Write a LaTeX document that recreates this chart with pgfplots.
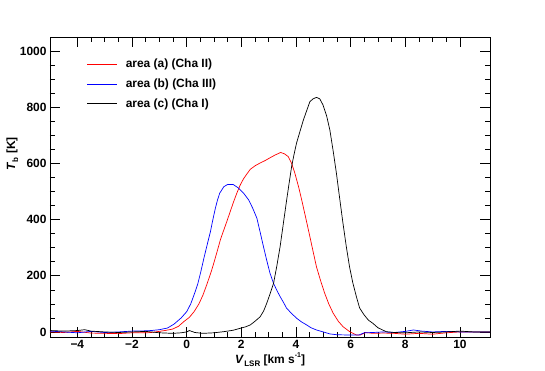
\documentclass[border=0pt]{standalone}
\usepackage{fontspec}
\setmainfont{Liberation Sans}
\usepackage{pgfplots}
\pgfplotsset{compat=1.18}

\begin{document}
\begin{tikzpicture}
\begin{axis}[
    at={(0,0)}, anchor=south west,
    width=440bp, height=300bp, scale only axis,
    xmin=-5, xmax=11.1,
    ymin=-18, ymax=1050,
    xtick={-4,-2,...,10},
    xticklabels={−4,−2,0,2,4,6,8,10},
    ytick={0,200,...,1000},
    minor x tick num=3,
    minor y tick num=3,
    tick align=inside,
    major tick length=10bp,
    minor tick length=5bp,
    tick style={black, line width=0.6bp},
    axis line style={line width=0.8bp},
    /pgf/number format/assume math mode=true,
    /pgf/number format/1000 sep={},
    tick label style={font=\fontsize{12}{14}\selectfont\bfseries},
    label style={font=\fontsize{12}{14}\selectfont\bfseries},
    xlabel={{\itshape V}\raisebox{-0.5ex}{\fontsize{8}{9}\selectfont\,LSR} [km s\raisebox{0.9ex}{\fontsize{7}{8}\selectfont -1}]},
    xlabel style={yshift=3bp},
    ylabel={{\itshape T}\raisebox{-0.5ex}{\fontsize{8}{9}\selectfont\,b} [K]},
    ylabel style={at={(rel axis cs:-0.064,0.61)}, anchor=south},
    legend style={draw=none, fill=none, at={(0.077,0.94)}, anchor=north west,
        font=\fontsize{12}{14}\selectfont\bfseries, row sep=5.5bp},
    legend cell align=left,
    legend image code/.code={
        \draw[mark repeat=2,mark phase=2,#1] plot coordinates {(0bp,0bp) (15bp,0bp) (30bp,0bp)};
        \path (36bp,0bp);
    },
]
% area (a) Cha II
\addplot[red, line width=0.7bp] coordinates {
(-5.0,0) (-4.5,-2) (-4.0,2) (-3.5,-4) (-3.0,-5) (-2.5,-6) (-2.0,-3) (-1.5,-3)
(-1.3,-2) (-1.0,2) (-0.8,5) (-0.52,10) (-0.3,20) (-0.1,37) (0.1,52) (0.27,72)
(0.45,100) (0.6,132) (0.75,172) (0.9,215) (1.0,247) (1.12,288) (1.24,330)
(1.36,363) (1.48,396) (1.6,430) (1.72,464) (1.84,495) (1.96,523) (2.08,545) (2.2,562) (2.33,579)
(2.51,592) (2.7,602) (2.87,610) (3.05,620) (3.24,630) (3.44,639) (3.58,634)
(3.72,624) (3.85,598) (3.96,565) (4.1,515) (4.21,470) (4.36,405) (4.51,339)
(4.63,285) (4.75,232) (4.9,183) (5.05,138) (5.2,100) (5.36,67) (5.55,38)
(5.72,19) (5.95,2) (6.21,-11) (6.35,-11) (6.55,-2) (6.8,-5) (7.2,-4) (7.6,-5)
(8.0,-8) (8.5,-5) (9.0,-8) (9.5,-3) (10.0,0) (10.5,0) (11.1,0)
};
\addlegendentry{area (a) (Cha II)}
% area (b) Cha III
\addplot[blue, line width=0.7bp] coordinates {
(-5.0,3) (-4.5,0) (-4.0,-3) (-3.5,2) (-3.0,-2) (-2.5,0) (-2.0,3) (-1.5,4)
(-1.3,5) (-1.0,8) (-0.7,14) (-0.46,28) (-0.2,50) (0.0,72) (0.15,100) (0.3,140)
(0.41,172) (0.52,215) (0.63,262) (0.75,310) (0.87,357) (0.96,400) (1.05,440)
(1.13,470) (1.21,494) (1.36,517) (1.5,525) (1.7,525) (1.9,512) (2.1,492)
(2.27,470) (2.42,440) (2.57,405) (2.69,355) (2.81,304) (2.93,255)
(3.05,209) (3.18,173) (3.3,148) (3.42,126) (3.55,104) (3.66,84) (3.85,65)
(4.02,49) (4.2,36) (4.39,25) (4.55,15) (4.75,7) (5.0,0) (5.24,-7) (5.5,-10)
(6.0,-11) (6.3,-11) (6.5,-3) (6.8,-2) (7.2,0) (7.6,-2) (8.0,2) (8.3,7)
(8.6,3) (9.0,0) (9.5,2) (10.0,0) (10.5,0) (11.1,0)
};
\addlegendentry{area (b) (Cha III)}
% area (c) Cha I
\addplot[black, line width=0.7bp] coordinates {
(-5.0,5) (-4.5,3) (-4.0,5) (-3.73,8) (-3.5,3) (-3.0,0) (-2.5,-2) (-2.0,0)
(-1.5,2) (-1.0,-3) (-0.5,-5) (-0.2,-3) (0.0,0) (0.1,5) (0.3,-2) (0.6,-5)
(1.0,-3) (1.36,1) (1.7,6) (1.96,13) (2.15,18) (2.33,25) (2.5,38) (2.69,54)
(2.82,75) (2.93,102) (3.05,135) (3.18,173) (3.3,235) (3.42,304) (3.54,387)
(3.66,470) (3.75,530) (3.84,588) (3.93,632) (4.02,672) (4.15,715) (4.27,754)
(4.4,790) (4.51,820) (4.63,830) (4.75,835) (4.87,830) (4.99,808) (5.12,770)
(5.24,719) (5.36,645) (5.48,565) (5.6,475) (5.72,387) (5.84,305) (5.96,232)
(6.08,175) (6.21,126) (6.33,85) (6.5,60) (6.65,42) (6.81,31) (7.0,15)
(7.3,1) (7.6,-2) (8.0,-3) (8.5,0) (9.0,-2) (9.5,0) (10.0,3) (10.5,0) (11.1,0)
};
\addlegendentry{area (c) (Cha I)}
\end{axis}
\pgfresetboundingbox
\useasboundingbox (-50bp,-34bp) rectangle (495bp,337bp);
\end{tikzpicture}
\end{document}
